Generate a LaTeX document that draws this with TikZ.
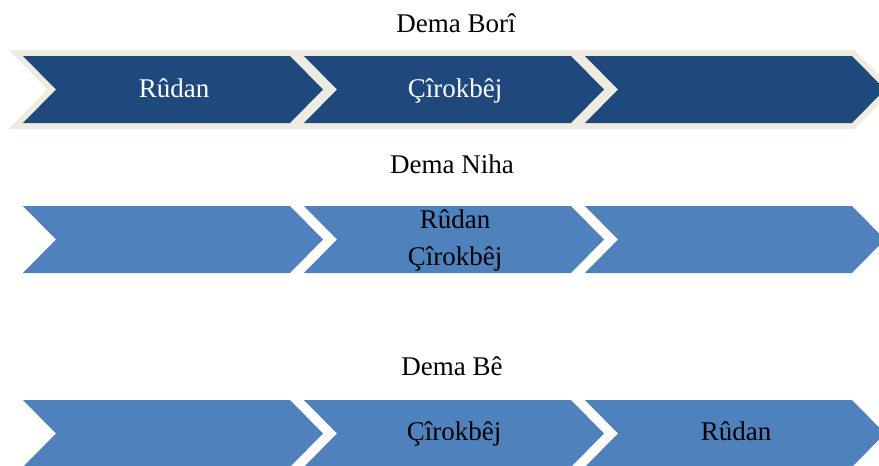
\documentclass[tikz,border=0pt]{standalone}
\usepackage{fontspec}
\setmainfont{Liberation Serif}
\definecolor{pastblue}{HTML}{1F497D}
\definecolor{nowblue}{HTML}{4F81BD}
\definecolor{creamline}{HTML}{EEECE1}
\begin{document}
\begin{tikzpicture}[x=1pt,y=-1pt,every node/.style={font=\fontsize{27}{32}\selectfont,anchor=base},
  steplabel/.style={text=black}]
\useasboundingbox (0,0) rectangle (879,466);
% Dema Bori: dark chevrons with a cream rim
\foreach \x in {23,304,585} {
  \draw[creamline,line width=12pt,line join=miter] (\x,56) -- ++(267,0) -- ++(33,33.5) -- ++(-33,33.5) -- ++(-267,0) -- ++(33,-33.5) -- cycle;
}
\foreach \x in {23,304,585} {
  \fill[pastblue] (\x,56) -- ++(267,0) -- ++(33,33.5) -- ++(-33,33.5) -- ++(-267,0) -- ++(33,-33.5) -- cycle;
}
% Dema Niha and Dema Be: light chevrons
\foreach \y in {206,400} {
  \foreach \x in {23,304,585} {
    \fill[nowblue] (\x,\y) -- ++(267,0) -- ++(33,33.5) -- ++(-33,33.5) -- ++(-267,0) -- ++(33,-33.5) -- cycle;
  }
}
% row titles
\node[steplabel] (past) at (456,32) {Dema Borî};
\node[steplabel] (now) at (452,173) {Dema Niha};
\node[steplabel] (next) at (452,375) {Dema Bê};
% texts in the chevrons
\node[text=white] (pastA) at (174,97) {Rûdan};
\node[text=white] (pastB) at (455,97) {Çîrokbêj};
\node[steplabel] (nowA) at (455,228) {Rûdan};
\node[steplabel] (nowB) at (455,265) {Çîrokbêj};
\node[steplabel] (nextB) at (454,440) {Çîrokbêj};
\node[steplabel] (nextC) at (736,440) {Rûdan};
\end{tikzpicture}
\end{document}
